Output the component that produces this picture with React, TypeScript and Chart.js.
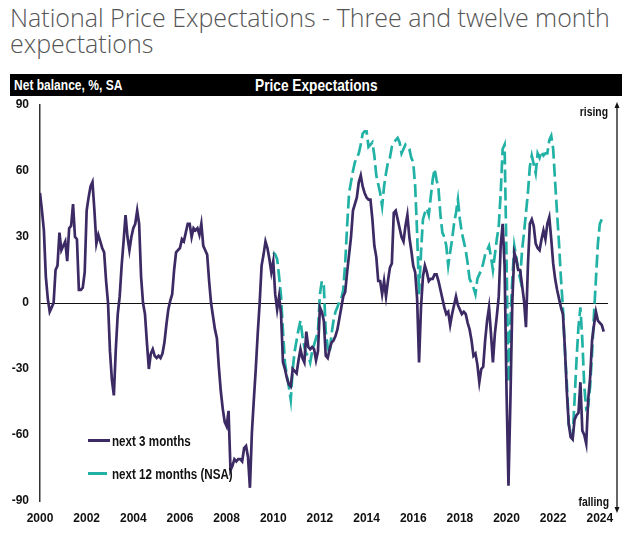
import React, { useEffect, useRef } from 'react';
import { Chart, registerables } from 'chart.js';

Chart.register(...registerables);

// ---- data ----
const START_3M = 2000; // Jan 2000, monthly
const next3Months: number[] = [
  50, 42, 33, 12, 2, -4, -2, 0, 15, 17, 32, 24, // 2000
  26, 28, 19, 34, 35, 45, 30, 29, 6, 6, 7, 14, // 2001
  42, 48, 53, 55, 42, 27, 31, 28, 25, 23, 10, 0, // 2002
  -22, -35, -42, -21, -5, 3, 17, 28, 40, 30, 24, 30, // 2003
  34, 36, 42, 36, 12, 0, -5, -18, -30, -23, -21, -24, // 2004
  -25, -24, -25, -23, -18, -10, -3, 1, 4, 15, 23, 24, // 2005
  25, 29, 28, 32, 36, 36, 30, 34, 33, 34, 31, 36, // 2006
  26, 24, 22, 10, 0, -6, -12, -16, -29, -40, -48, -54, // 2007
  -56, -49, -76, -74, -71, -72, -71, -71, -72, -66, -65, -70, // 2008
  -84, -59, -44, -30, -14, 0, 17, 22, 28, 25, 20, 14, // 2009
  19, 4, -3, 3, -5, -27, -30, -34, -37, -38, -30, -31, // 2010
  -32, -26, -21, -25, -27, -13, -20, -21, -20, -21, -26, -22, // 2011
  -2, -4, -8, -24, -25, -21, -18, -17, -15, -12, -7, -2, // 2012
  3, 5, 14, 22, 30, 42, 45, 48, 55, 58, 53, 50, // 2013
  48, 47, 47, 38, 26, 21, 10, 10, 4, 10, 3, 10, // 2014
  16, 18, 41, 42, 38, 34, 30, 28, 35, 40, 30, 24, // 2015
  17, 14, 2, -27, -2, 12, 17, 14, 10, 11, 11, 13, // 2016
  13, 10, 6, 2, -2, -5, -4, -10, -5, -1, 3, -1, // 2017
  -3, -5, -4, -5, -9, -12, -17, -24, -23, -28, -36, -30, // 2018
  -29, -17, -8, -2, -14, -27, -14, -6, 3, 26, 36, 17, // 2019
  -40, -83, -44, 1, 23, 20, 15, 15, 8, 1, -11, 17, // 2020
  36, 38, 35, 27, 25, 24, 29, 33, 29, 36, 39, 29, // 2021
  18, 11, 6, 2, -2, -5, -20, -40, -55, -61, -62, -53, // 2022
  -51, -50, -36, -58, -60, -64, -44, -34, -17, -10, -4, -8, // 2023
  -9, -10, -13, // 2024
];

const START_12M = 2010; // Jan 2010, monthly
const next12Months: number[] = [
  23, 22, 20, 12, 3, -13, -27, -33, -38, -44, -30, -22, // 2010
  -17, -12, -8, -15, -20, -23, -24, -27, -22, -19, -16, -13, // 2011
  4, 10, 8, -13, -20, -23, -14, -8, -4, -2, 1, 2, // 2012
  6, 18, 35, 50, 55, 60, 64, 66, 68, 72, 77, 78, // 2013
  78, 71, 72, 73, 67, 58, 54, 50, 44, 53, 59, 64, // 2014
  66, 71, 73, 74, 75, 73, 68, 70, 72, 71, 70, 66, // 2015
  64, 53, 32, 4, 23, 38, 41, 43, 40, 48, 56, 61, // 2016
  56, 52, 40, 32, 30, 26, 17, 23, 29, 36, 41, 47, // 2017
  38, 32, 28, 24, 18, 11, 9, 7, 4, 11, 13, 15, // 2018
  18, 22, 24, 26, 21, 15, 22, 29, 35, 50, 70, 72, // 2019
  20, -36, -8, 11, 26, 21, 15, 11, 24, 32, 41, 50, // 2020
  62, 67, 63, 59, 68, 66, 69, 67, 68, 68, 74, 76, // 2021
  70, 55, 41, 27, 11, -2, -21, -36, -55, -59, -61, -44, // 2022
  -26, -11, -2, -17, -38, -48, -47, -38, -23, -5, 11, 27, // 2023
  36, 38, // 2024
];

const X_TICKS = [2000, 2002, 2004, 2006, 2008, 2010, 2012, 2014, 2016, 2018, 2020, 2022, 2024];
const Y_TICKS = [-90, -60, -30, 0, 30, 60, 90];
const SERIES_LABELS = ['next 3 months', 'next 12 months (NSA)'];

const PURPLE = '#3b2a63';
const TEAL = '#22b2a5';
const SANS = "'Liberation Sans', Arial, sans-serif";
const NARROW_SCALE = 0.83;

const toPoints = (start: number, vals: number[]) =>
  vals.map((v, i) => ({ x: start + i / 12, y: v }));

const sidePlugin = {
  id: 'sideArrow',
  afterDraw(chart: any) {
    const { ctx, chartArea } = chart;
    const x = chartArea.right + 9;
    const top = chartArea.top - 3;
    const bottom = chartArea.bottom + 12;
    ctx.save();
    ctx.strokeStyle = '#111';
    ctx.fillStyle = '#111';
    ctx.lineWidth = 1.3;
    ctx.beginPath();
    ctx.moveTo(x, top + 3);
    ctx.lineTo(x, bottom - 3);
    ctx.stroke();
    ctx.beginPath();
    ctx.moveTo(x, top);
    ctx.lineTo(x - 2.5, top + 6);
    ctx.lineTo(x + 2.5, top + 6);
    ctx.closePath();
    ctx.fill();
    ctx.beginPath();
    ctx.moveTo(x, bottom);
    ctx.lineTo(x - 2.5, bottom - 6);
    ctx.lineTo(x + 2.5, bottom - 6);
    ctx.closePath();
    ctx.fill();
    ctx.font = `bold 12.5px ${SANS}`;
    ctx.textAlign = 'right';
    ctx.textBaseline = 'middle';
    const label = (t: string, px: number, py: number) => {
      ctx.save();
      ctx.translate(px, py);
      ctx.scale(NARROW_SCALE, 1);
      ctx.fillText(t, 0, 0);
      ctx.restore();
    };
    label('rising', chartArea.right, chartArea.top + 8);
    label('falling', chartArea.right + 1, chartArea.bottom + 2);
    ctx.restore();
  },
};

export default function App() {
  const canvasRef = useRef<HTMLCanvasElement | null>(null);

  useEffect(() => {
    if (!canvasRef.current) return;
    Chart.defaults.font.family = SANS;
    const chart = new Chart(canvasRef.current, {
      type: 'line',
      data: {
        datasets: [
          {
            label: SERIES_LABELS[0],
            data: toPoints(START_3M, next3Months),
            borderColor: PURPLE,
            borderWidth: 2.7,
            pointRadius: 0,
            tension: 0,
            fill: false,
          },
          {
            label: SERIES_LABELS[1],
            data: toPoints(START_12M, next12Months),
            borderColor: TEAL,
            borderWidth: 2.7,
            borderDash: [13, 5],
            pointRadius: 0,
            tension: 0,
            fill: false,
          },
        ],
      },
      options: {
        animation: false,
        responsive: false,
        maintainAspectRatio: false,
        parsing: false as any,
        layout: { padding: { top: 9, right: 26, left: 0, bottom: 0 } },
        plugins: { legend: { display: false }, tooltip: { enabled: false } },
        scales: {
          x: {
            type: 'linear',
            min: 2000,
            max: 2024.35,
            afterBuildTicks: (scale: any) => {
              scale.ticks = X_TICKS.map((v) => ({ value: v }));
            },
            afterFit: (scale: any) => {
              scale.height = 46;
            },
            grid: { display: false, drawTicks: false },
            border: { display: false },
            ticks: {
              autoSkip: false,
              maxRotation: 0,
              padding: 10,
              color: '#111',
              font: { size: 12, weight: 'bold' },
              callback: (v: any) => String(v),
            },
          },
          y: {
            min: -90,
            max: 90,
            afterBuildTicks: (scale: any) => {
              scale.ticks = Y_TICKS.map((v) => ({ value: v }));
            },
            afterFit: (scale: any) => {
              scale.width = 40;
              scale.paddingTop = 0;
              scale.paddingBottom = 0;
            },
            grid: {
              drawTicks: false,
              color: (c: any) => (c.tick && c.tick.value === 0 ? '#111' : 'rgba(0,0,0,0)'),
              lineWidth: 1,
            },
            border: { display: true, color: '#333', width: 1.5 },
            ticks: {
              padding: 11,
              color: '#111',
              font: { size: 12, weight: 'bold' },
              callback: (v: any) => String(v),
            },
          },
        },
      },
      plugins: [sidePlugin],
    } as any);
    return () => chart.destroy();
  }, []);

  const narrow = (fontSize: number): React.CSSProperties => ({
    position: 'absolute',
    fontFamily: SANS,
    fontWeight: 'bold',
    fontSize,
    whiteSpace: 'nowrap',
    transform: `scaleX(${NARROW_SCALE})`,
    transformOrigin: 'left center',
  });

  return (
    <div
      style={{
        position: 'fixed',
        left: 0,
        top: 0,
        width: 634,
        height: 547,
        background: '#fff',
        overflow: 'hidden',
      }}
    >
      <div
        style={{
          position: 'absolute',
          left: 10,
          top: 4,
          fontFamily: "'Open Sans', sans-serif",
          fontWeight: 300,
          fontSize: 25,
          lineHeight: '26px',
          color: '#555',
          whiteSpace: 'nowrap',
        }}
      >
        National Price Expectations - Three and twelve month
        <br />
        expectations
      </div>
      <div
        style={{
          position: 'absolute',
          left: 10,
          top: 74,
          width: 612,
          height: 22,
          background: '#000',
          color: '#fff',
        }}
      >
        <span style={{ ...narrow(14.5), left: 4, top: 2, lineHeight: '18px' }}>Net balance, %, SA</span>
        <span
          style={{
            ...narrow(16.5),
            left: 306 - 61,
            top: 1,
            lineHeight: '20px',
          }}
        >
          Price Expectations
        </span>
      </div>
      <canvas
        ref={canvasRef}
        width={634}
        height={451}
        style={{ position: 'absolute', left: 0, top: 96, width: 634, height: 451 }}
      />
      <div style={{ position: 'absolute', left: 88, top: 439, width: 22, height: 3, background: PURPLE }} />
      <div style={{ ...narrow(14), left: 112, top: 433, lineHeight: '16px', color: '#111' }}>
        {SERIES_LABELS[0]}
      </div>
      <div style={{ position: 'absolute', left: 88, top: 472, width: 19, height: 3, background: TEAL }} />
      <div style={{ ...narrow(14), left: 112, top: 466, lineHeight: '16px', color: '#111' }}>
        {SERIES_LABELS[1]}
      </div>
    </div>
  );
}
